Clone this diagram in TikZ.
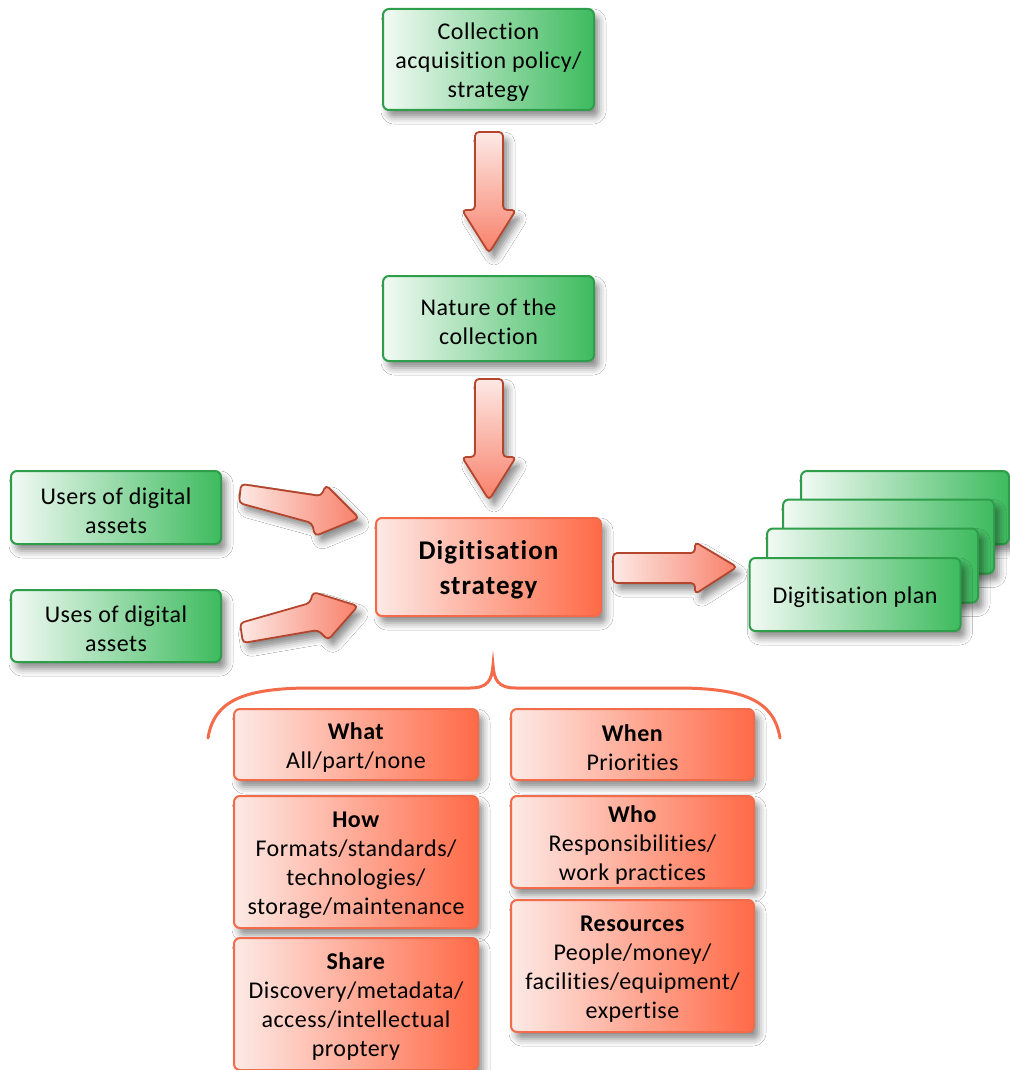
\documentclass[tikz,border=0pt]{standalone}
\usepackage{fontspec}
\setmainfont{Carlito}[LetterSpace=2,Ligatures=CommonOff]
\usetikzlibrary{shadows.blur,calc}
\definecolor{gborder}{HTML}{2E9E4A}
\definecolor{gdark}{HTML}{3DBB5E}
\definecolor{glight}{HTML}{F2FAF4}
\definecolor{oborder}{HTML}{F26B4A}
\definecolor{odark}{HTML}{FF6A47}
\definecolor{olight}{HTML}{FDEAE6}
\definecolor{aborder}{HTML}{B5462E}
\definecolor{alight}{HTML}{FDE9E5}
\definecolor{adark}{HTML}{F8806A}
\definecolor{bracecol}{HTML}{F46B4B}
\newcommand\fstrut{\rule{0pt}{22.5pt}}
\newcommand\bstrut{\rule{0pt}{25.5pt}}
\begin{document}
\begin{tikzpicture}[x=1pt,y=-1pt,font=\fontsize{24}{29}\selectfont,
 shad/.style={blur shadow={shadow xshift=5pt,shadow yshift=-7pt,shadow blur radius=7pt,shadow opacity=45}},
 boxbase/.style={shad,line width=2pt,rounded corners=6pt,align=center,inner sep=0pt},
 gbox/.style={boxbase,draw=gborder,left color=glight,right color=gdark},
 obox/.style={boxbase,draw=oborder,left color=olight,right color=odark},
 barrow/.style={shad,draw=aborder,line width=1.8pt,rounded corners=4pt,line join=round},
 varrow/.style={barrow,top color=alight,bottom color=adark},
 harrow/.style={barrow,left color=alight,right color=adark},
 bracestyle/.style={draw=bracecol,line width=3pt,line cap=round}
]
\fill[white] (0,0) rectangle (1009,1070);
\path[use as bounding box] (0,0) rectangle (1009,1070);

% brace
\draw[bracestyle] (208,738) .. controls (214,700) and (245,689) .. (305,688) -- (470,688)
  .. controls (488,688) and (492,680) .. (493,665)
  .. controls (494,680) and (498,688) .. (516,688) -- (683,688)
  .. controls (743,689) and (774,700) .. (780,738);

% green boxes
\node[gbox,minimum width=211pt,minimum height=101pt] (coll) at (488.5,59.5) {\fstrut Collection\\acquisition policy/\\strategy};
\node[gbox,minimum width=211pt,minimum height=85pt] (nature) at (488.5,318.5) {\fstrut Nature of the\\collection};
\node[gbox,minimum width=210pt,minimum height=73pt] (users) at (116,507.5) {\fstrut Users of digital\\assets};
\node[gbox,minimum width=210pt,minimum height=72pt] (uses) at (116,626) {\fstrut Uses of digital\\assets};

% central
\node[obox,minimum width=225pt,minimum height=98pt,font=\fontsize{27}{35}\selectfont\bfseries\addfontfeatures{LetterSpace=4}] (strat) at (488.5,567) {\bstrut Digitisation\\strategy};

% plan stack
\node[gbox,minimum width=208pt,minimum height=73pt] (p4) at (905,507.5) {};
\node[gbox,minimum width=211pt,minimum height=74pt] (p3) at (888.5,536.5) {};
\node[gbox,minimum width=211pt,minimum height=74pt] (p2) at (872.5,565.5) {};
\node[gbox,minimum width=211pt,minimum height=73pt] (plan) at (855,594.5) {\fstrut Digitisation plan};

% block arrows
\path[varrow] (475,132) -- (475,210) -- (462,210) -- (489,253) -- (516,210) -- (503,210) -- (503,132) -- cycle;
\path[varrow] (475,379) -- (475,457) -- (462,457) -- (489,500) -- (516,457) -- (503,457) -- (503,379) -- cycle;
\path[harrow] (241,484) -- (321,496) -- (326,485) -- (359,518) -- (315,536) -- (312,523) -- (239,503) -- cycle;
\path[harrow] (240,623) -- (310,603) -- (313,592) -- (358,606) -- (328,640) -- (318,630) -- (243,643) -- cycle;
\path[harrow] (613,553) -- (695,553) -- (695,542) -- (737,567) -- (695,594) -- (695,583) -- (613,583) -- cycle;

% bottom boxes
\node[obox,minimum width=244pt,minimum height=71pt] (what) at (356,744.5) {\fstrut\textbf{What}\\All/part/none};
\node[obox,minimum width=243pt,minimum height=71pt] (when) at (632.5,744.5) {\fstrut\textbf{When}\\Priorities};
\node[obox,minimum width=244pt,minimum height=132pt] (how) at (356,862) {\fstrut\textbf{How}\\Formats/standards/\\technologies/\\storage/maintenance};
\node[obox,minimum width=243pt,minimum height=92pt] (who) at (632.5,842) {\fstrut\textbf{Who}\\Responsibilities/\\work practices};
\node[obox,minimum width=244pt,minimum height=132pt] (share) at (356,1004) {\fstrut\textbf{Share}\\Discovery/metadata/\\access/intellectual\\proptery};
\node[obox,minimum width=243pt,minimum height=132pt] (res) at (632.5,966) {\fstrut\textbf{Resources}\\People/money/\\facilities/equipment/\\expertise};
\end{tikzpicture}
\end{document}
